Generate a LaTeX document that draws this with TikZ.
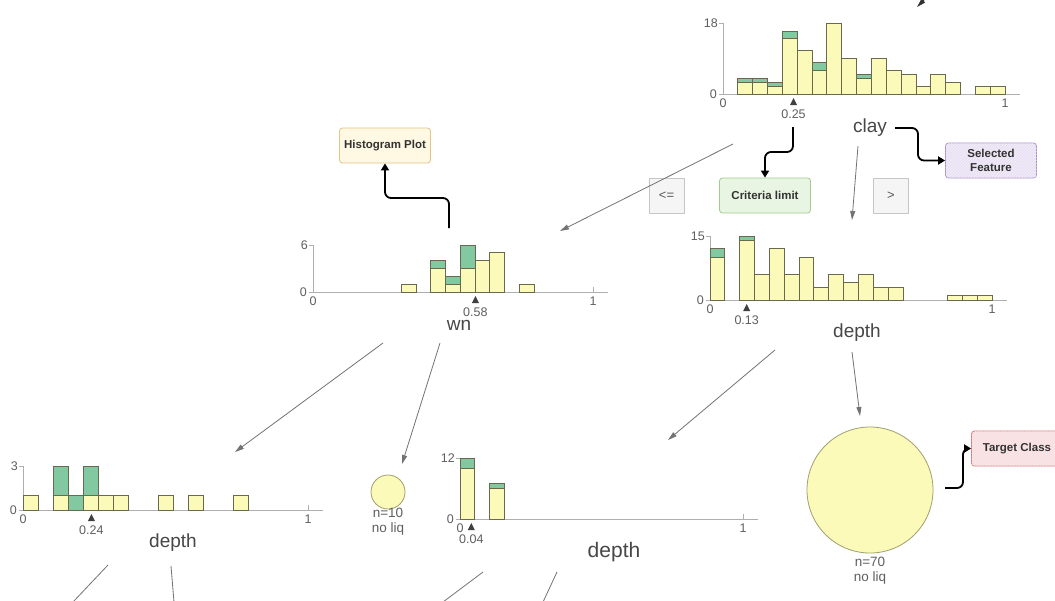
\documentclass[tikz,border=0pt]{standalone}
\usepackage{fontspec}
\setmainfont{Liberation Sans}
\usetikzlibrary{arrows.meta,patterns}

\definecolor{histyellow}{RGB}{252,250,184}
\definecolor{histgreen}{RGB}{130,200,160}
\definecolor{barline}{RGB}{105,105,80}
\definecolor{axisgray}{RGB}{175,175,175}
\definecolor{labelgray}{RGB}{95,95,95}
\definecolor{treegray}{RGB}{115,115,115}
\definecolor{leafline}{RGB}{160,160,110}
\definecolor{plotfill}{RGB}{255,248,226}
\definecolor{plotline}{RGB}{225,195,130}
\definecolor{critfill}{RGB}{233,245,227}
\definecolor{critline}{RGB}{160,205,140}
\definecolor{featfill}{RGB}{240,233,248}
\definecolor{featline}{RGB}{170,145,205}
\definecolor{targfill}{RGB}{252,229,231}
\definecolor{targline}{RGB}{220,120,130}

\tikzset{
  histbar/.style={draw=barline, line width=0.9pt},
  histaxis/.style={draw=axisgray, line width=0.9pt},
  ticklabel/.style={text=labelgray, font=\fontsize{12.5}{14}\selectfont, inner sep=1pt},
  featlabel/.style={text=labelgray!75!black, font=\fontsize{19}{22}\selectfont, anchor=base, inner sep=0pt},
  leaf/.style={circle, draw=leafline, fill=histyellow, line width=0.8pt, inner sep=0pt},
  leaflabel/.style={text=labelgray, font=\fontsize{13.5}{15}\selectfont, align=center, inner sep=0pt, anchor=north},
  split/.style={draw=treegray, line width=0.8pt, -{Triangle[length=9pt,width=5pt]}},
  note/.style={draw=black, line width=1.8pt, rounded corners=6pt, -{Triangle[length=7pt,width=8pt]}},
  notebox/.style={text=black!80, font=\bfseries\fontsize{11.5}{14}\selectfont, rounded corners=3pt,
    line width=0.8pt, minimum width=91pt, minimum height=35pt, inner sep=2pt, align=center},
  edgebox/.style={draw=gray!45, fill=gray!8, line width=0.8pt, minimum size=35pt, inner sep=0pt,
    text=gray!70!black, font=\fontsize{13}{14}\selectfont}
}

% #1 origin, #2 axis length, #3 unit, #4 top count, #5 split, #6 split label, #7 bins k/yellow/green
\newcommand{\hist}[7]{%
  \begin{scope}[shift={#1}]
    \pgfmathsetmacro{\binw}{#2/19}
    \draw[histaxis] (-4,0) -- ({#2+15},0);
    \draw[histaxis] (-4,{-#4*#3}) -- (0,{-#4*#3}) -- (0,0);
    \draw[histaxis] (#2,0) -- (#2,-5);
    \foreach \k/\a/\b in {#7} {
      \ifnum\a>0 \draw[histbar, fill=histyellow] ({\k*\binw},0) rectangle ({(\k+1)*\binw},{-\a*#3}); \fi
      \ifnum\b>0 \draw[histbar, fill=histgreen] ({\k*\binw},{-\a*#3}) rectangle ({(\k+1)*\binw},{-(\a+\b)*#3}); \fi
    }
    \node[ticklabel, anchor=east] at (-4,{-#4*#3}) {#4};
    \node[ticklabel, anchor=east] at (-5,0) {0};
    \node[ticklabel, anchor=north] at (0,4) {0};
    \node[ticklabel, anchor=north] at (#2,4) {1};
    \fill[black!75] ({#5*#2},4) -- ++(-3.5,7) -- ++(7,0) -- cycle;
    \node[ticklabel, anchor=north] at ({#5*#2},15) {#6};
  \end{scope}}

\begin{document}
\begin{tikzpicture}[x=1pt, y=-1pt]
\useasboundingbox (0,0) rectangle (1055,600);
\clip (0,0) rectangle (1055,600);
\fill[white] (0,0) rectangle (1055,600);

% histograms
\hist{(723,94)}{282}{3.94}{18}{0.25}{0.25}{1/3/1, 2/3/1, 3/2/1, 4/14/2, 5/11/0, 6/6/2, 7/18/0, 8/9/0, 9/4/1,
  10/9/0, 11/6/0, 12/5/0, 13/2/0, 14/5/0, 15/3/0, 17/2/0, 18/2/0}
\hist{(313,292)}{280}{7.83}{6}{0.58}{0.58}{6/1/0, 8/3/1, 9/1/1, 10/3/3, 11/4/0, 12/5/0, 14/1/0}
\hist{(710,300)}{282}{4.27}{15}{0.13}{0.13}{0/10/2, 2/14/1, 3/6/0, 4/12/0, 5/6/0, 6/10/0, 7/3/0, 8/6/0,
  9/4/0, 10/6/0, 11/3/0, 12/3/0, 16/1/0, 17/1/0, 18/1/0}
\hist{(23,510)}{285}{14.67}{3}{0.24}{0.24}{0/1/0, 2/1/2, 3/0/1, 4/1/2, 5/1/0, 6/1/0, 9/1/0, 11/1/0, 14/1/0}
\hist{(460,519)}{283}{5.08}{12}{0.04}{0.04}{0/10/2, 2/6/1}

% feature names
\node[featlabel] (clay) at (870,132) {clay};
\node[featlabel] (wn) at (459,330) {wn};
\node[featlabel] (depthr) at (857,337) {depth};
\node[featlabel] (depthl) at (173,547) {depth};
\node[featlabel, font=\fontsize{21}{24}\selectfont] (depthm) at (614,557) {depth};

% leaves
\node[leaf, minimum size=34pt] (leafa) at (388,492) {};
\node[leaflabel] (leafatext) at (388,508) {n=10\\no liq};
\node[leaf, minimum size=126pt] (leafb) at (870,490) {};
\node[leaflabel] (leafbtext) at (870,557) {n=70\\no liq};

% annotation boxes
\node[notebox, draw=plotline, fill=plotfill] (histplot) at (385,145.5) {Histogram Plot};
\node[notebox, draw=critline, fill=critfill] (criteria) at (765,195.5) {Criteria limit};
\node[notebox, draw=featline, fill=featfill,
  postaction={pattern=north east lines, pattern color=featline!30}] (selfeat) at (991,160.5) {Selected\\Feature};
\node[notebox, draw=targline, fill=targfill,
  postaction={pattern=north east lines, pattern color=targline!25}] (target) at (1017,448.5) {Target Class};
\node[edgebox] (le) at (666.5,195.5) {<=};
\node[edgebox] (gt) at (891,195.5) {>};

% tree edges
\coordinate (top) at (927,-3);
\coordinate (claytop) at (917,7);
\coordinate (clayl) at (733,144);
\coordinate (wnin) at (560,231);
\coordinate (clayr) at (858,146);
\coordinate (depthrin) at (852,220);
\coordinate (wnl) at (383,343);
\coordinate (depthlin) at (235,452);
\coordinate (wnr) at (440,343);
\coordinate (leafain) at (402,464);
\coordinate (depthrl) at (775,350);
\coordinate (depthmin) at (668,440);
\coordinate (depthrr) at (852,352);
\coordinate (leafbin) at (860,416);
\draw[split, draw=black!80] (top) -- (claytop);
\draw[split] (clayl) -- (wnin);
\draw[split] (clayr) -- (depthrin);
\draw[split] (wnl) -- (depthlin);
\draw[split] (wnr) -- (leafain);
\draw[split] (depthrl) -- (depthmin);
\draw[split] (depthrr) -- (leafbin);
\draw[treegray, line width=0.8pt] (108,565) -- (73,602);
\draw[treegray, line width=0.8pt] (171,566) -- (174,602);
\draw[treegray, line width=0.8pt] (483,572) -- (443,602);
\draw[treegray, line width=0.8pt] (557,572) -- (543,602);

% annotation arrows
\coordinate (wnnote) at (449,228);
\coordinate (splitnote) at (793,127);
\coordinate (claynote) at (895,128);
\coordinate (leafnote) at (945,488);
\draw[note] (wnnote) -- ++(0,-30) -| (histplot.south);
\draw[note] (splitnote) -- ++(0,25) -| (criteria.north);
\draw[note] (claynote) -- ++(23,0) |- (selfeat.west);
\draw[note] (leafnote) -- ++(18,0) |- (target.west);
\end{tikzpicture}
\end{document}
